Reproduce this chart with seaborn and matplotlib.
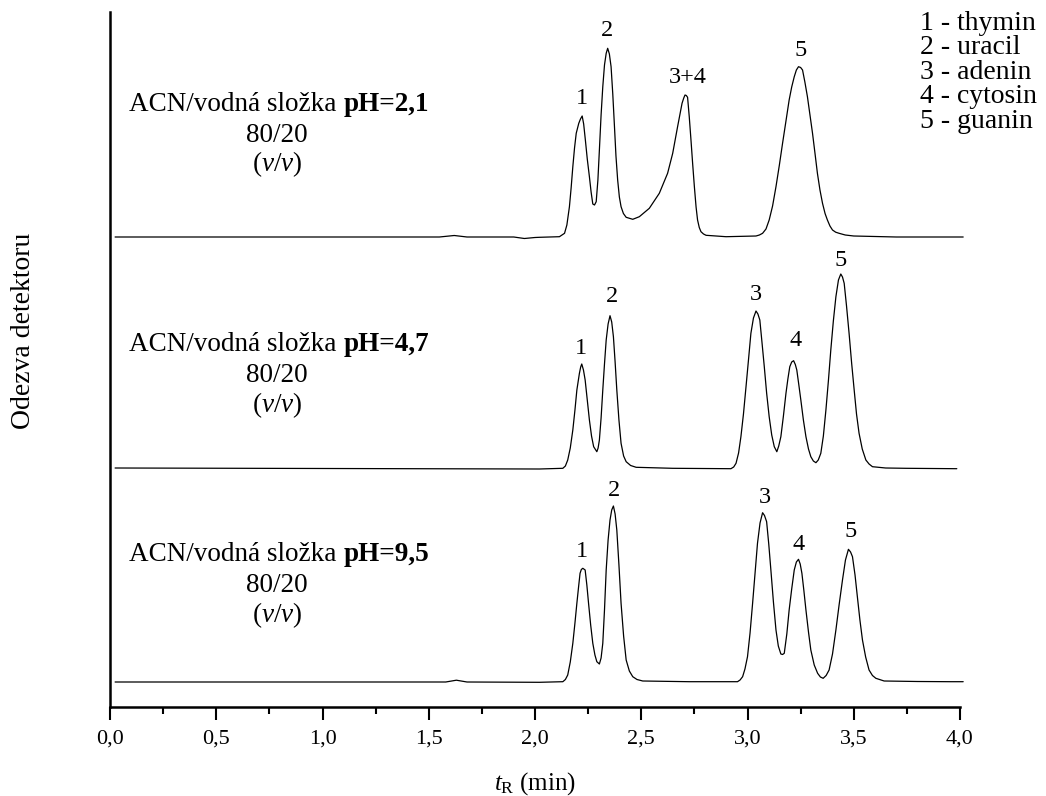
import matplotlib
matplotlib.use("Agg")
import matplotlib.pyplot as plt
from matplotlib.ticker import MultipleLocator, FixedLocator
import seaborn as sns
import pandas as pd

# ---------------- DATA ----------------
# retention time (min) and detector response (arbitrary units, traces stacked)
x_ph21 = [0.024, 1.55, 1.62, 1.68, 1.90, 1.95, 2.00, 2.021, 2.115, 2.139, 2.150, 2.162, 2.170, 2.178,
          2.186, 2.194, 2.206, 2.214, 2.222, 2.229, 2.237, 2.246, 2.256, 2.264, 2.272, 2.280,
          2.288, 2.296, 2.303, 2.311, 2.319, 2.327, 2.335, 2.342, 2.350, 2.358, 2.366, 2.374,
          2.381, 2.389, 2.397, 2.405, 2.416, 2.429, 2.460, 2.491, 2.538, 2.585, 2.624, 2.648,
          2.671, 2.692, 2.700, 2.706, 2.712, 2.718, 2.726, 2.734, 2.742, 2.750, 2.758, 2.765,
          2.773, 2.781, 2.793, 2.805, 2.899, 3.040, 3.056, 3.071, 3.087, 3.102, 3.118, 3.134,
          3.150, 3.165, 3.181, 3.196, 3.208, 3.220, 3.230, 3.240, 3.250, 3.259, 3.270, 3.282,
          3.294, 3.306, 3.318, 3.329, 3.341, 3.353, 3.365, 3.376, 3.388, 3.400, 3.415, 3.431,
          3.460, 3.500, 3.700, 4.015]
y_ph21 = [473, 473, 474.5, 473, 473, 471.5, 472.5, 472.7, 473.3, 476.7, 485, 503.3, 522, 543.3,
          562, 576.7, 586.7, 591, 594, 586, 570, 551, 533.3, 518, 506, 505,
          508.3, 530, 560, 595, 623.3, 645, 656.7, 661.7, 656, 643.3, 616, 583.3,
          554, 530, 513, 503.3, 496.5, 492.7, 490.7, 493.3, 501.7, 516.7, 536.7, 556.7,
          583.3, 606.7, 612, 615, 614.5, 612.7, 593, 570, 546, 523.3, 503, 490,
          482.5, 478.3, 476, 474.7, 473.3, 474, 475, 476.7, 481, 490, 504, 523.3,
          545, 566.7, 589, 610, 623, 633.3, 640, 643.3, 642.5, 640, 628, 613.3,
          595, 576.7, 556, 536.7, 520, 506.7, 496.5, 490, 484, 480, 477.8, 476.7,
          475, 474, 473, 473]

x_ph47 = [0.024, 2.021, 2.131, 2.143, 2.154, 2.166, 2.178, 2.188, 2.197, 2.209, 2.215, 2.220, 2.228,
          2.236, 2.246, 2.256, 2.266, 2.276, 2.291, 2.297, 2.303, 2.311, 2.319, 2.327, 2.335,
          2.344, 2.353, 2.361, 2.369, 2.377, 2.385, 2.395, 2.405, 2.417, 2.429, 2.450, 2.476,
          2.648, 2.922, 2.935, 2.946, 2.958, 2.969, 2.981, 2.993, 3.005, 3.016, 3.028, 3.040,
          3.049, 3.058, 3.068, 3.079, 3.090, 3.102, 3.114, 3.126, 3.138, 3.147, 3.157, 3.169,
          3.181, 3.190, 3.199, 3.208, 3.217, 3.225, 3.232, 3.241, 3.251, 3.263, 3.275, 3.287,
          3.298, 3.310, 3.322, 3.333, 3.345, 3.357, 3.369, 3.381, 3.392, 3.404, 3.416, 3.428,
          3.439, 3.447, 3.455, 3.466, 3.478, 3.490, 3.502, 3.513, 3.525, 3.540, 3.557, 3.572,
          3.588, 3.650, 3.745, 3.985]
y_ph47 = [242, 241, 241.7, 244, 250, 262, 280, 300, 320, 336.7, 343, 346, 340,
          330, 310, 290, 274, 263.3, 258.3, 262, 270, 292, 320, 346, 370,
          386, 394.3, 388, 373.3, 348, 320, 290, 266.7, 254, 248.3, 244.5, 242.7,
          241.7, 241.3, 243, 246.7, 257, 273.3, 296, 323.3, 351, 376.7, 392, 399,
          396, 390, 368, 343.3, 317, 293.3, 275, 263.3, 258.3, 264, 273.3, 294,
          316.7, 331, 343.3, 348, 349.3, 345.5, 340, 326, 310, 290, 273.3, 261,
          253.3, 249, 247.3, 250, 256.7, 274, 300, 330, 360, 389, 413.3, 430,
          436, 433, 426.7, 404, 376.7, 347, 320, 296, 276.7, 261, 250, 246,
          243.3, 242, 241.7, 241.3]

x_ph95 = [0.024, 1.58, 1.63, 1.68, 2.021, 2.131, 2.143, 2.154, 2.166, 2.178, 2.188, 2.197, 2.205,
          2.212, 2.218, 2.225, 2.236, 2.244, 2.252, 2.262, 2.272, 2.282, 2.291, 2.303, 2.311,
          2.319, 2.327, 2.335, 2.344, 2.353, 2.361, 2.369, 2.377, 2.385, 2.395, 2.405, 2.417,
          2.429, 2.444, 2.460, 2.480, 2.507, 2.726, 2.953, 2.965, 2.977, 2.988, 3.000, 3.012,
          3.024, 3.036, 3.047, 3.059, 3.071, 3.080, 3.090, 3.100, 3.110, 3.122, 3.134, 3.145,
          3.157, 3.165, 3.173, 3.185, 3.196, 3.208, 3.220, 3.230, 3.240, 3.248, 3.256, 3.265,
          3.275, 3.287, 3.298, 3.314, 3.330, 3.343, 3.356, 3.370, 3.384, 3.400, 3.416, 3.431,
          3.447, 3.461, 3.475, 3.485, 3.494, 3.506, 3.517, 3.529, 3.541, 3.556, 3.572, 3.588,
          3.604, 3.643, 3.800, 3.956, 4.015]
y_ph95 = [28, 28, 29.8, 28, 27.7, 28.3, 30.5, 35, 48, 66.7, 87, 106.7, 123,
          136.7, 140.5, 141.7, 140, 125, 106.7, 85, 66.7, 55, 48.3, 46, 52,
          66.7, 100, 140, 170, 190, 200, 204, 196, 180, 145, 106.7, 74,
          50, 39, 33.3, 30.5, 29, 28.3, 28.3, 30, 33.3, 41, 53.3, 77,
          106.7, 138, 166.7, 187, 197.3, 194.5, 188.3, 166, 140, 108, 80, 64,
          56, 55.5, 56.7, 76, 100, 121, 140, 148, 150.7, 146, 136.7, 120,
          100, 78, 60, 45, 36.7, 33, 31.7, 34.5, 40, 56, 80, 105,
          130, 150, 160.7, 158, 153.3, 135, 113.3, 90, 70, 53, 40, 34.5,
          31.7, 29, 28.5, 28.3, 28.3]

conditions = ["pH=2,1", "pH=4,7", "pH=9,5"]
ratio_text = "80/20"
tick_values = [0.0, 0.5, 1.0, 1.5, 2.0, 2.5, 3.0, 3.5, 4.0]
tick_labels = ["0,0", "0,5", "1,0", "1,5", "2,0", "2,5", "3,0", "3,5", "4,0"]
legend_lines = ["1 - thymin", "2 - uracil", "3 - adenin", "4 - cytosin", "5 - guanin"]

# peak labels: (text, x, baseline y)
peak_labels_ph21 = [("1", 2.220, 606), ("2", 2.337, 674), ("3+4", 2.720, 626.7), ("5", 3.250, 654)]
peak_labels_ph47 = [("1", 2.215, 356), ("2", 2.364, 408), ("3", 3.040, 410), ("4", 3.227, 364), ("5", 3.440, 444)]
peak_labels_ph95 = [("1", 2.220, 152.7), ("2", 2.372, 214), ("3", 3.082, 207.3), ("4", 3.240, 160), ("5", 3.487, 173.3)]

# text block baselines for each trace (line1, line2, line3)
block_y = [(599.3, 568.3, 539.3), (359.3, 328.3, 298.3), (149.3, 118.3, 88.3)]

# ---------------- STYLE ----------------
sns.set_theme(style="ticks")
plt.rcParams["font.family"] = ["Liberation Serif", "DejaVu Serif"]
plt.rcParams["mathtext.fontset"] = "custom"
plt.rcParams["mathtext.rm"] = "Liberation Serif"
plt.rcParams["mathtext.it"] = "Liberation Serif:italic"
plt.rcParams["mathtext.bf"] = "Liberation Serif:bold"
plt.rcParams["text.color"] = "black"
plt.rcParams["axes.labelcolor"] = "black"
plt.rcParams["xtick.color"] = "black"
plt.rcParams["xtick.labelcolor"] = "black"

fig = plt.figure(figsize=(10.46, 7.96), dpi=100)
ax = fig.add_axes([110 / 1046, (796 - 707) / 796, 850 / 1046, (707 - 12) / 796])

frames = []
for name, xs, ys in [("2,1", x_ph21, y_ph21), ("4,7", x_ph47, y_ph47), ("9,5", x_ph95, y_ph95)]:
    frames.append(pd.DataFrame({"t": xs, "signal": ys, "pH": name}))
df = pd.concat(frames, ignore_index=True)

for name in ["2,1", "4,7", "9,5"]:
    sub = df[df["pH"] == name]
    sns.lineplot(data=sub, x="t", y="signal", ax=ax, color="black", linewidth=0.9,
                 sort=False, estimator=None, legend=False, clip_on=False)

ax.set_xlim(0, 4.0)
ax.set_ylim(3, 698)
ax.set_yticks([])
ax.xaxis.set_major_locator(FixedLocator(tick_values))
ax.set_xticklabels(tick_labels, fontsize=16, color="black")
ax.xaxis.set_minor_locator(MultipleLocator(0.25))
ax.tick_params(axis="x", which="major", direction="out", length=9, width=1.5, pad=7, colors="black")
ax.tick_params(axis="x", which="minor", direction="out", length=5, width=1.5, colors="black")
for s in ["top", "right"]:
    ax.spines[s].set_visible(False)
for s in ["left", "bottom"]:
    ax.spines[s].set_linewidth(1.8)
    ax.spines[s].set_color("black")
ax.set_xlabel(r"$\mathit{t}_\mathrm{R}$ (min)", fontsize=18, labelpad=16, color="black")
ax.set_ylabel("")
fig.text(24 / 1046, 1 - 331 / 796, "Odezva detektoru", rotation=90, ha="center", va="center",
         fontsize=20, color="black")

# text blocks
for cond, (y1, y2, y3) in zip(conditions, block_y):
    t1 = ax.text(0.089, y1, "ACN/vodná složka", fontsize=19.5, ha="left", va="baseline", color="black")
    ax.annotate(cond, xy=(1, 0), xycoords=t1, xytext=(5, 0), textcoords="offset points",
                ha="left", va="bottom", fontsize=19.5, fontweight="bold", color="black")
    ax.text(0.786, y2, ratio_text, fontsize=19.5, ha="center", va="baseline", color="black")
    ax.text(0.786, y3, r"($\mathit{v}$/$\mathit{v}$)", fontsize=19.5, ha="center", va="baseline",
            color="black")

for labels in [peak_labels_ph21, peak_labels_ph47, peak_labels_ph95]:
    for txt, xv, yv in labels:
        ax.text(xv, yv, txt, fontsize=17.5, ha="center", va="baseline", color="black")

# legend as one multi-line text block (last line baseline at y=582.3)
ax.text(3.812, 582.3, "\n".join(legend_lines), fontsize=20, ha="left", va="baseline",
        linespacing=0.975, clip_on=False, color="black")

fig.savefig("out.png", dpi=100)
